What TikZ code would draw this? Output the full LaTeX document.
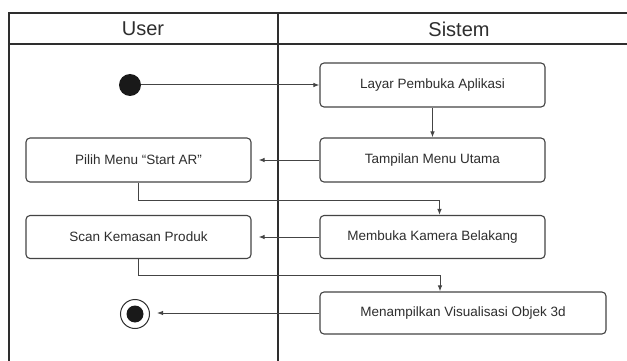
\documentclass[tikz,border=0pt]{standalone}
\usepackage{fontspec}
\setmainfont{Liberation Sans}
\usepackage{tikz}
\usetikzlibrary{shapes,arrows,arrows.meta,positioning}
\definecolor{lanegray}{HTML}{2E2E2E}
\definecolor{boxgray}{HTML}{444444}
\tikzstyle{actbox}=[rectangle, rounded corners=4pt, draw=boxgray, line width=1.1pt, align=center, minimum width=225pt, minimum height=44pt, font=\fontsize{13.5}{15}\selectfont, text=lanegray]
\tikzstyle{startdot}=[circle, fill=black!90, minimum size=22pt, inner sep=0pt]
\tikzstyle{enddot}=[circle, draw=lanegray, line width=1pt, minimum size=29pt, inner sep=0pt, path picture={\fill[black!90] (path picture bounding box.center) circle (8.5pt);}]
\tikzstyle{lanehead}=[font=\fontsize{20}{23}\selectfont, text=lanegray]
\tikzstyle{flow}=[-{Latex[length=6pt,width=4.5pt]}, line width=1pt, draw=boxgray]

\begin{document}
\begin{tikzpicture}[x=1pt,y=1pt]
\useasboundingbox[fill=white] (0,0) rectangle (627,-361);

% swimlanes
\draw[lanegray, line width=1.4pt] (627,-13) -- (9,-13) -- (9,-361);
\draw[lanegray, line width=1.4pt] (9,-44) -- (627,-44);
\draw[lanegray, line width=1.4pt] (278,-13) -- (278,-361);
\node[lanehead] (user) at (143,-29) {User};
\node[lanehead] (sistem) at (459,-29) {Sistem};

\node[startdot] (start) at (130,-85) {};
\node[actbox] (layar) at (432.5,-85) {Layar Pembuka Aplikasi};
\node[actbox] (menu) at (432.5,-160) {Tampilan Menu Utama};
\node[actbox] (pilih) at (138.5,-160) {Pilih Menu ``Start AR''};
\node[actbox, minimum height=43pt] (kamera) at (432.5,-237) {Membuka Kamera Belakang};
\node[actbox, minimum height=43pt] (scan) at (138.5,-237) {Scan Kemasan Produk};
\node[actbox, minimum width=286pt, minimum height=42pt] (visual) at (463,-313) {Menampilkan Visualisasi Objek 3d};
\node[enddot] (end) at (135,-314) {};

\draw[flow] (start.east) -- (layar.west);
\draw[flow] (layar.south) -- (menu.north);
\draw[flow, shorten >=7pt] (menu.west) -- (pilih.east);
\draw[flow] (pilih.south) -- ++(0,-18) -| ([xshift=7pt]kamera.north);
\draw[flow, shorten >=7pt] (kamera.west) -- (scan.east);
\draw[flow] (scan.south) -- ++(0,-16) -| ([xshift=-23pt]visual.north);
\draw[flow, shorten >=7pt] (visual.west) -- (end.east |- visual.west);

\end{tikzpicture}
\end{document}
